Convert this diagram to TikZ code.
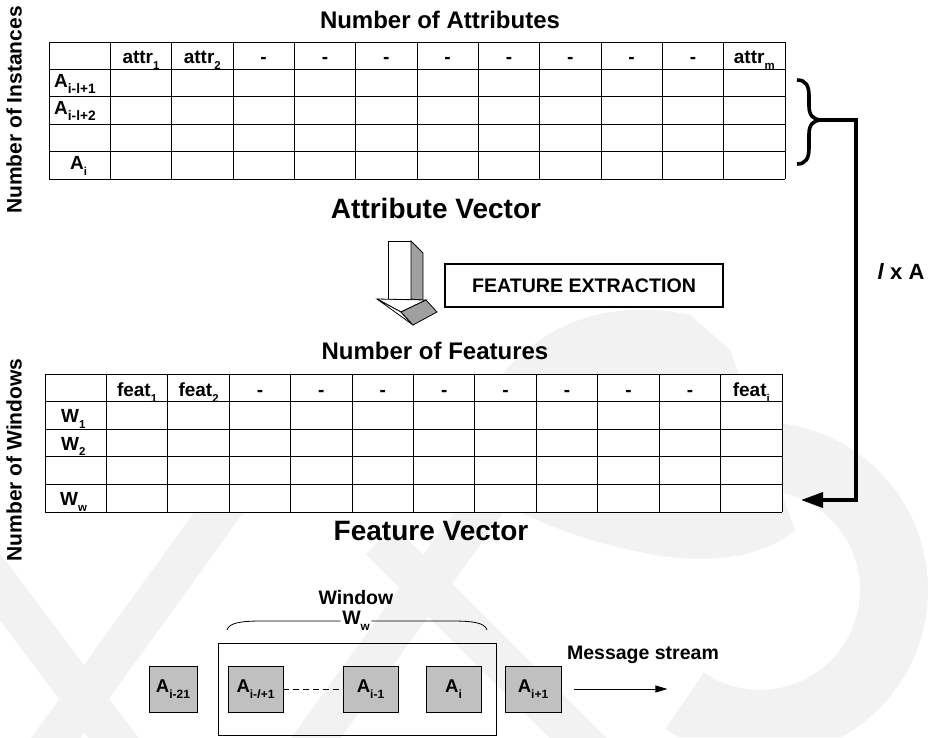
\documentclass[tikz,border=0pt]{standalone}
\usepackage{fontspec}
\setmainfont{Liberation Sans}
\usetikzlibrary{arrows.meta}

% lowered, reduced index text
\newcommand\lsub[2][0.66]{\raisebox{-0.3em}{\scalebox{#1}{#2}}}
\newcommand\fsz[1]{\fontsize{#1}{#1}\selectfont\bfseries}

\definecolor{boxgray}{RGB}{192,192,192}
\definecolor{sidegray}{RGB}{160,160,160}
\definecolor{wmgray}{RGB}{242,242,242}

\tikzset{
  grid/.style={line width=0.9pt},
  cell/.style={font=\fsz{19}, inner sep=0pt},
  title/.style={font=\fsz{24}, inner sep=0pt},
  bigtitle/.style={font=\fsz{28}, inner sep=0pt},
  sidelabel/.style={font=\fsz{21}, inner sep=0pt, rotate=90},
  thick line/.style={line width=3.6pt},
  abox/.style={draw, line width=0.9pt, fill=boxgray, minimum height=46pt,
               inner sep=0pt, font=\fsz{18.5}},
  wm/.style={wmgray, line width=40pt}
}

\begin{document}
\begin{tikzpicture}[x=1pt, y=-1pt]
\useasboundingbox (0,0) rectangle (932,737);
\fill[white] (0,0) rectangle (932,737);

% faint background emblem
\begin{scope}
  \clip (0,0) rectangle (932,737);
  \draw[wm] (40,760) -- (300,400);
  \draw[wm] (300,760) -- (560,400);
  \draw[wm] (380,540) -- (600,760);
  \draw[wm] (-20,560) -- (130,760);
  \fill[wmgray] (470,430) .. controls (510,330) and (600,295) .. (690,315)
        -- (730,350) -- (795,530) .. controls (760,560) and (700,565) .. (640,552)
        .. controls (580,540) and (530,520) .. (490,495) -- cycle;
  \begin{scope}
    \clip (760,590) -- (640,330) -- (932,330) -- (932,737) -- (660,737) -- cycle;
    \fill[wmgray, even odd rule] (760,590) circle (168) (760,590) circle (100);
  \end{scope}
\end{scope}

% ---------- attribute table ----------
\fill[white] (49,42) rectangle (785,179);
\foreach \i in {0,...,12}
  \draw[grid] ({49+\i*61.33},42) -- ({49+\i*61.33},179);
\foreach \y in {42,69.4,96.8,124.2,151.6,179}
  \draw[grid] (49,\y) -- (785,\y);

\node[cell, anchor=base] (ha1) at (141,63.5) {attr\lsub[0.6]{1}};
\node[cell, anchor=base] (ha2) at (202.3,63.5) {attr\lsub[0.6]{2}};
\foreach \k in {3,...,10}
  \node[cell, anchor=base] (had\k) at ({49+61.33*(\k+0.5)},63.5) {-};
\node[cell, anchor=base] (ham) at (754.3,63.5) {attr\lsub[0.6]{m}};

\node[cell, anchor=base west] (ra1) at (54,87.3) {A\lsub[0.72]{i-l+1}};
\node[cell, anchor=base west] (ra2) at (54,114.7) {A\lsub[0.72]{i-l+2}};
\node[cell, anchor=base west] (rai) at (70,169.5) {A\lsub[0.6]{i}};

\node[title] (tattr) at (440,20) {Number of Attributes};
\node[bigtitle] (vattr) at (436,208) {Attribute Vector};
\node[sidelabel] (yinst) at (14,110) {Number of Instances};

% brace over the instance rows and the l x A link
\draw[thick line] (797,80) .. controls (806,80) and (809,86) .. (809,96)
      -- (809,106) .. controls (809,115) and (813,120) .. (822,120)
      .. controls (813,120) and (809,125) .. (809,134)
      -- (809,148) .. controls (809,158) and (806,164) .. (797,164);
\coordinate (btip) at (822,120);
\coordinate (fin) at (801,500);
\draw[thick line, -{Triangle[length=22pt,width=15pt]}] (btip) -- (856,120) |- (fin);
\node[font=\fsz{22}, inner sep=0pt] (lxa) at (901,272) {\textit{l} x A};

% ---------- feature extraction step ----------
\draw[line width=0.8pt, fill=white] (388,241) -- (411,241) -- (411,299) -- (388,299) -- cycle;
\draw[line width=0.8pt, fill=sidegray] (411,241) -- (423,253) -- (423,300) -- (411,299) -- cycle;
\draw[line width=0.8pt, fill=white] (377,299) -- (426,300) -- (401,312) -- cycle;
\draw[line width=0.8pt, fill=white] (377,299) -- (401,312) -- (413,325) -- cycle;
\draw[line width=0.8pt, fill=sidegray] (401,312) -- (426,300) -- (437,312) -- (413,325) -- cycle;

\node[draw, line width=1.3pt, fill=white, minimum width=278pt, minimum height=43pt,
      font=\fsz{19.6}] (fext) at (584,285.5) {FEATURE EXTRACTION};

% ---------- feature table ----------
\node[title] (tfeat) at (435,351) {Number of Features};
\fill[white] (45,374) rectangle (782,512);
\foreach \i in {0,...,12}
  \draw[grid] ({45+\i*61.42},374) -- ({45+\i*61.42},512);
\foreach \y in {374,401.6,429.2,456.8,484.4,512}
  \draw[grid] (45,\y) -- (782,\y);

\node[cell, anchor=base] (hf1) at (137.1,396.5) {feat\lsub[0.6]{1}};
\node[cell, anchor=base] (hf2) at (198.6,396.5) {feat\lsub[0.6]{2}};
\foreach \k in {3,...,10}
  \node[cell, anchor=base] (hfd\k) at ({45+61.42*(\k+0.5)},396.5) {-};
\node[cell, anchor=base] (hfi) at (751.3,396.5) {feat\lsub[0.6]{i}};

\node[cell, anchor=base west] (rw1) at (61,422.7) {W\lsub[0.6]{1}};
\node[cell, anchor=base west] (rw2) at (61,450.2) {W\lsub[0.6]{2}};
\node[cell, anchor=base west] (rww) at (60,505.8) {W\lsub[0.6]{w}};

\node[bigtitle] (vfeat) at (431,531) {Feature Vector};
\node[sidelabel] (ywin) at (14,460) {Number of Windows};

% ---------- message stream ----------
\node[font=\fsz{19.5}, inner sep=0pt] (wlab) at (356,598) {Window};
\node[font=\fsz{19.5}, inner sep=1.5pt] (ww) at (356,621) {W\lsub[0.6]{w}};
\draw[line width=0.8pt] (227,630) .. controls (229,623) and (240,621) .. (262,621) -- (ww.west);
\draw[line width=0.8pt] (ww.east) -- (452,621) .. controls (474,621) and (485,623) .. (487,630);
\draw[line width=0.9pt] (218,643) rectangle (496,735);

\node[abox, minimum width=48pt] (a21) at (173,689) {A\lsub[0.65]{i-21}};
\node[abox, minimum width=55pt] (al1) at (255.5,689) {A\lsub[0.65]{i-\textit{l}+1}};
\node[abox, minimum width=55pt] (am1) at (370.5,689) {A\lsub[0.65]{i-1}};
\node[abox, minimum width=55pt] (ai) at (453.5,689) {A\lsub[0.65]{i}};
\node[abox, minimum width=56pt] (ap1) at (533,689) {A\lsub[0.65]{i+1}};

\draw[line width=0.9pt, dashed, dash pattern=on 6pt off 4pt] (al1.east) -- (am1.west);
\coordinate (sstart) at ([xshift=13pt]ap1.east);
\draw[line width=0.9pt, -{Triangle[length=12pt,width=7pt]}] (sstart) -- ++(93,0);
\node[font=\fsz{19.5}, inner sep=0pt] (mstream) at (643,655) {Message stream};
\end{tikzpicture}
\end{document}
